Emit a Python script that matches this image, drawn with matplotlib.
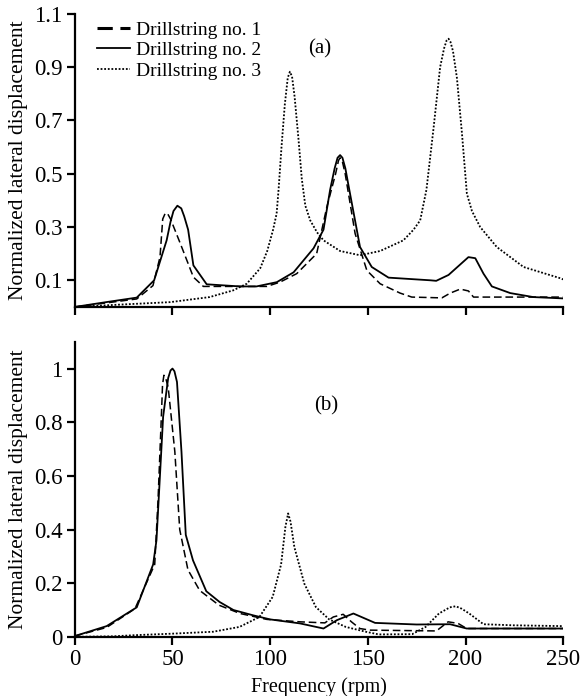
import numpy as np
import matplotlib.pyplot as plt
from matplotlib.ticker import FormatStrFormatter

plt.rcParams['font.family'] = ['Liberation Serif', 'DejaVu Serif']

# (a) frequency (rpm) / normalized displacement
a1_f = [0, 16, 31.7, 40, 43.6, 45, 46.3, 47.5, 49, 53.9, 60.7, 65.8, 80, 98.3, 105, 113.6, 123.8, 129,
        133.5, 135, 135.8, 137, 138.4, 143.5, 149.5, 156.3, 166.5, 172.5, 187.9, 192.2, 197.3, 201.5, 204.1, 250]
a1_y = [0, 0.015, 0.03, 0.08, 0.187, 0.33, 0.352, 0.35, 0.33, 0.24, 0.112, 0.077, 0.077, 0.077, 0.093, 0.125,
        0.2, 0.375, 0.5, 0.55, 0.56, 0.545, 0.5, 0.275, 0.137, 0.087, 0.052, 0.037, 0.034, 0.052, 0.067, 0.06,
        0.037, 0.037]

a2_f = [0, 16, 31.7, 40.6, 47, 49, 50.5, 52.5, 54.5, 56, 58, 60.7, 67.5, 84.6, 93, 103.4, 112, 122.2, 127.3,
        130.7, 133, 134.5, 135.8, 137, 138.5, 140, 146, 152, 160.6, 182, 185, 191.3, 201.5, 205, 209.2, 213.5,
        222.9, 234.7, 250]
a2_y = [0, 0.018, 0.035, 0.1, 0.25, 0.32, 0.36, 0.38, 0.37, 0.34, 0.29, 0.156, 0.085, 0.077, 0.077, 0.093,
        0.13, 0.22, 0.29, 0.44, 0.52, 0.56, 0.57, 0.56, 0.52, 0.46, 0.225, 0.15, 0.11, 0.1, 0.098, 0.12, 0.187,
        0.183, 0.125, 0.077, 0.052, 0.037, 0.032]

a3_f = [0, 26.5, 48.8, 69, 81, 88, 94.9, 98.5, 101.5, 103.3, 104.3, 105.8, 107.5, 109, 110.1, 111.2, 112.5,
        114.5, 116.2, 118, 120.5, 124, 127.3, 135.8, 146, 156.3, 168.2, 173.4, 176.8, 180, 183.7, 187, 189,
        190.3, 191.3, 192.3, 193.6, 195.6, 198.2, 200.7, 203.3, 207.5, 216, 229.7, 249.3, 250]
a3_y = [0, 0.01, 0.018, 0.037, 0.062, 0.087, 0.145, 0.21, 0.29, 0.35, 0.44, 0.6, 0.76, 0.86, 0.883, 0.865,
        0.79, 0.63, 0.48, 0.38, 0.325, 0.28, 0.25, 0.21, 0.194, 0.21, 0.25, 0.29, 0.325, 0.44, 0.675, 0.9,
        0.97, 1.0, 1.007, 0.995, 0.96, 0.86, 0.65, 0.425, 0.36, 0.3, 0.225, 0.15, 0.106, 0.103]

# (b)
b1_f = [0, 16.3, 30.8, 40.9, 42.6, 44.4, 44.9, 45.6, 46.5, 47.8, 51.2, 53.7, 57.9, 63.9, 73.8, 84.6, 98.3,
        115.2, 128, 132.3, 137.4, 141.6, 145.9, 151, 185.1, 191.1, 196.2, 200.6, 250]
b1_y = [0.003, 0.035, 0.105, 0.27, 0.51, 0.84, 0.94, 0.975, 0.965, 0.93, 0.69, 0.4, 0.25, 0.173, 0.118, 0.087,
        0.065, 0.056, 0.052, 0.074, 0.084, 0.056, 0.031, 0.025, 0.022, 0.056, 0.05, 0.031, 0.031]

b2_f = [0, 16.3, 31.7, 40.1, 41.8, 45.2, 47.8, 49, 50, 51, 52.3, 54.6, 56.8, 60.5, 67.3, 74.1, 81.2, 91.4, 100,
        115.3, 127.3, 134.1, 142.6, 153.7, 175, 192.1, 200.6, 250]
b2_y = [0.003, 0.04, 0.11, 0.27, 0.36, 0.82, 0.965, 0.993, 1.0, 0.99, 0.95, 0.69, 0.38, 0.285, 0.17, 0.13, 0.1,
        0.08, 0.065, 0.05, 0.031, 0.062, 0.087, 0.052, 0.046, 0.047, 0.031, 0.031]

b3_f = [0, 20, 30, 50.4, 70.8, 84.3, 94.5, 101.3, 105.6, 107.8, 109.2, 110.4, 112.4, 117.5, 123.4, 130.2,
        138.7, 148.9, 155.6, 172.7, 179.6, 186.4, 192, 195, 198, 201.9, 209.2, 224.5, 250]
b3_y = [0, 0.002, 0.006, 0.012, 0.019, 0.037, 0.074, 0.149, 0.27, 0.41, 0.46, 0.43, 0.334, 0.198, 0.111,
        0.065, 0.037, 0.019, 0.009, 0.01, 0.037, 0.087, 0.11, 0.114, 0.105, 0.087, 0.047, 0.043, 0.04]

labels = ["Drillstring no. 1", "Drillstring no. 2", "Drillstring no. 3"]


def style_axes(ax):
    for s in ['top', 'right']:
        ax.spines[s].set_visible(False)
    for s in ['left', 'bottom']:
        ax.spines[s].set_linewidth(1.6)
    ax.tick_params(direction='out', length=6, width=1.6, labelsize=16.5, pad=3)
    ax.set_xlim(0, 250)
    ax.set_ylim(0, 1.1)
    ax.set_xticks([0, 50, 100, 150, 200, 250])


fig = plt.figure(figsize=(5.8, 6.96), dpi=100)
ax1 = fig.add_axes([0.129, 0.559, 0.842, 0.421])
ax2 = fig.add_axes([0.129, 0.085, 0.842, 0.424])

dash = dict(color='black', lw=1.1, ls=(0, (5, 2.5)))
solid = dict(color='black', lw=1.3, ls='-')
dot = dict(color='black', lw=1.3, ls=(0, (1, 1)))

ax1.plot(a1_f, a1_y, label=labels[0], **dash)
ax1.plot(a2_f, a2_y, label=labels[1], **solid)
ax1.plot(a3_f, a3_y, label=labels[2], **dot)
style_axes(ax1)
ax1.set_yticks([0.1, 0.3, 0.5, 0.7, 0.9, 1.1])
ax1.yaxis.set_major_formatter(FormatStrFormatter('%.1f'))
ax1.set_xticklabels([])
ax1.set_ylabel("Normalized lateral displacement", fontsize=15.5, labelpad=4)
ax1.text(125.5, 0.97, "(a)", fontsize=15, ha='center', va='center')
leg = ax1.legend(loc='upper left', bbox_to_anchor=(0.01, 1.035), frameon=False, fontsize=14,
                 handlelength=1.7, handletextpad=0.3, labelspacing=0.15)
leg.get_lines()[0].set_linewidth(2.2)

ax2.plot(b1_f, b1_y, **dash)
ax2.plot(b2_f, b2_y, **solid)
ax2.plot(b3_f, b3_y, **dot)
style_axes(ax2)
ax2.set_yticks([0, 0.2, 0.4, 0.6, 0.8, 1.0])
ax2.yaxis.set_major_formatter(FormatStrFormatter('%g'))
ax2.set_ylabel("Normalized lateral displacement", fontsize=15.5, labelpad=4)
ax2.set_xlabel("Frequency (rpm)", fontsize=14.5, labelpad=5)
ax2.text(128.5, 0.86, "(b)", fontsize=15, ha='center', va='center')

fig.savefig("out.png", dpi=100)
